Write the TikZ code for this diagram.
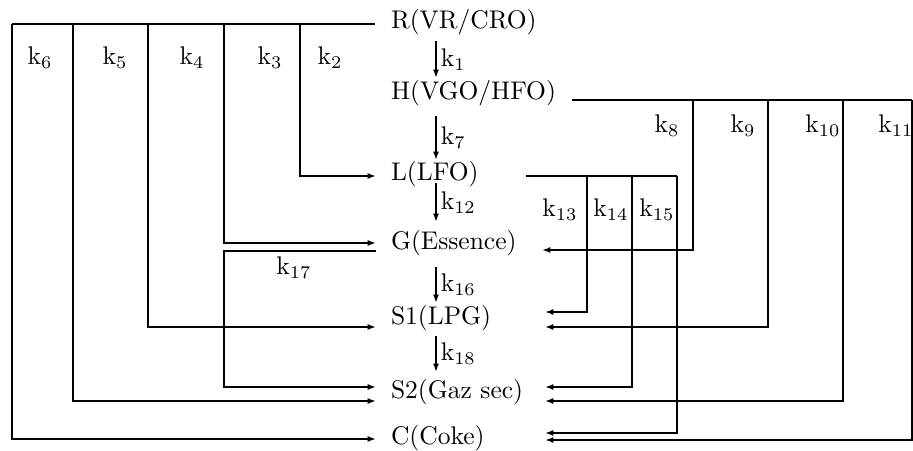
\documentclass[tikz,border=0pt]{standalone}
\usetikzlibrary{arrows.meta,calc}
\begin{document}
\begin{tikzpicture}[x=0.392pt,y=-0.392pt,line width=0.8pt,
  arr/.style={-{Latex[length=3.3pt,width=2.4pt]}},
  state/.style={anchor=west,inner sep=0pt,font=\fontsize{10}{12}\selectfont},
  lab/.style={inner sep=0pt,font=\fontsize{10}{12}\selectfont},
  vlab/.style={right,inner sep=1.5pt,font=\fontsize{10}{12}\selectfont}]
\useasboundingbox (0,0) rectangle (913,451);
% states
\node[state] (R)  at (390,22)  {R(VR/CRO)};
\node[state] (H)  at (390,93)  {H(VGO/HFO)};
\node[state] (L)  at (390,174) {L(LFO)};
\node[state] (G)  at (390,243) {G(Essence)};
\node[state] (S1) at (390,318) {S1(LPG)};
\node[state] (S2) at (390,392) {S2(Gaz sec)};
\node[state] (C)  at (390,438) {C(Coke)};
% bus corners
\coordinate (t6) at (12,24);
\coordinate (t5) at (73,24);
\coordinate (t4) at (148,24);
\coordinate (t3) at (224,24);
\coordinate (t2) at (300,24);
\coordinate (h8) at (693,100);
\coordinate (h9) at (768,100);
\coordinate (h10) at (843,100);
\coordinate (h11) at (912,100);
\coordinate (l14) at (587,176);
\coordinate (l15) at (632,176);
\coordinate (lc) at (677,176);
% main chain
\draw[arr] ($(R.west)+(46,19)$) -- ($(H.west)+(46,-15)$) node[midway,vlab]{k$_1$};
\draw[arr] ($(H.west)+(46,23)$) -- ($(L.west)+(46,-14)$) node[midway,vlab]{k$_7$};
\draw[arr] ($(L.west)+(46,9)$) -- ($(G.west)+(46,-21)$) node[midway,vlab]{k$_{12}$};
\draw[arr] ($(G.west)+(46,24)$) -- ($(S1.west)+(46,-15)$) node[midway,vlab]{k$_{16}$};
\draw[arr] ($(S1.west)+(46,18)$) -- ($(S2.west)+(46,-20)$) node[midway,vlab]{k$_{18}$};
% buses
\draw ($(R.west)+(-15,2)$) -- (t6);
\draw ($(H.west)+(182,7)$) -- (h11);
\draw ($(L.west)+(136,2)$) -- (lc);
% left side
\draw[arr] (t6) |- ($(C.west)+(-14,1)$);
\draw[arr] (t5) |- ($(S2.west)+(-14,9)$);
\draw[arr] (t4) |- ($(S1.west)+(-14,9)$);
\draw[arr] (t3) |- ($(G.west)+(-14,0)$);
\draw[arr] (t2) |- ($(L.west)+(-14,2)$);
\draw[arr] ($(G.west)+(-14,8)$) -| ($(S2.west)+(-166,-5)$) -- ($(S2.west)+(-14,-5)$);
% right side
\draw[arr] (h8) |- ($(G.west)+(152,7)$);
\draw[arr] (h9) |- ($(S1.west)+(155,9)$);
\draw[arr] (h10) |- ($(S2.west)+(155,9)$);
\draw[arr] (h11) |- ($(C.west)+(155,2)$);
\draw[arr] (l14) |- ($(S1.west)+(155,-6)$);
\draw[arr] (l15) |- ($(S2.west)+(155,-5)$);
\draw[arr] (lc) |- ($(C.west)+(155,-5)$);
% labels
\node[lab] (k6) at (40,58) {k$_6$};
\node[lab] (k5) at (115,58) {k$_5$};
\node[lab] (k4) at (192,58) {k$_4$};
\node[lab] (k3) at (270,58) {k$_3$};
\node[lab] (k2) at (330,58) {k$_2$};
\node[lab] (k8) at (667,126) {k$_8$};
\node[lab] (k9) at (743,126) {k$_9$};
\node[lab] (k10) at (823,126) {k$_{10}$};
\node[lab] (k11) at (896,126) {k$_{11}$};
\node[lab] (k13) at (560,210) {k$_{13}$};
\node[lab] (k14) at (611,210) {k$_{14}$};
\node[lab] (k15) at (657,210) {k$_{15}$};
\node[lab] (k17) at (294,268) {k$_{17}$};
\end{tikzpicture}
\end{document}
